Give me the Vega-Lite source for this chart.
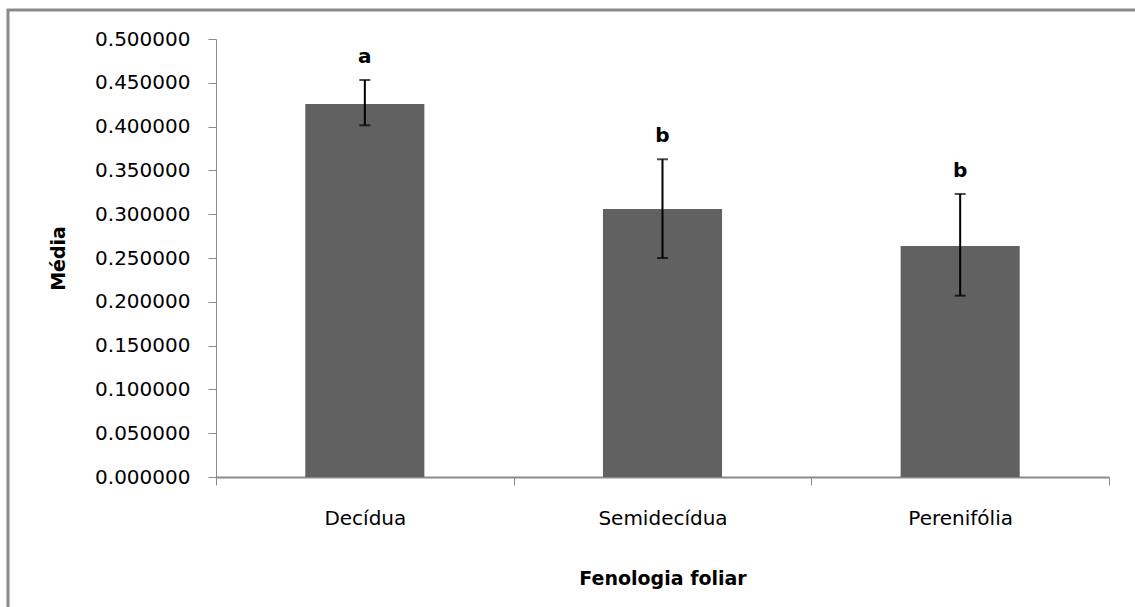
{
  "$schema": "https://vega.github.io/schema/vega-lite/v6.json",
  "width": 1127,
  "height": 597,
  "autosize": "none",
  "padding": {"left": 8, "top": 10, "right": 0, "bottom": 0},
  "background": "white",
  "view": {"stroke": "#8a8a8a", "strokeWidth": 3, "fill": "white", "strokeDash": [1127, 1724, 600, 10]},
  "config": {
    "view": {"stroke": "#8a8a8a", "strokeWidth": 3, "fill": "white", "strokeDash": [1127, 1724, 600, 10]},
    "axis": {"grid": false, "domainColor": "#8a8a8a", "tickColor": "#8a8a8a", "labelColor": "black", "titleColor": "black"}
  },
  "data": {
    "values": [
      {"fenologia": "Decídua", "media": 0.4258, "lo": 0.4015, "hi": 0.4532, "letra": "a"},
      {"fenologia": "Semidecídua", "media": 0.3059, "lo": 0.2500, "hi": 0.3627, "letra": "b"},
      {"fenologia": "Perenifólia", "media": 0.2637, "lo": 0.2070, "hi": 0.3231, "letra": "b"}
    ]
  },
  "encoding": {
    "x": {
      "field": "fenologia",
      "type": "nominal",
      "sort": null,
      "scale": {"type": "band", "range": [208, 1101], "paddingInner": 0, "paddingOuter": 0},
      "axis": {
        "title": "Fenologia foliar",
        "offset": -130,
        "labelAngle": 0,
        "labelFont": "DejaVu Sans",
        "labelFontSize": 20,
        "labelPadding": 23,
        "tickSize": 8,
        "tickBand": "extent",
        "domainWidth": 2,
        "titleFont": "DejaVu Sans",
        "titleFontWeight": "bold",
        "titleFontSize": 19,
        "titlePadding": 41
      }
    }
  },
  "layer": [
    {
      "mark": {"type": "bar", "color": "#616161", "width": {"band": 0.4}},
      "encoding": {
        "y": {
          "field": "media",
          "type": "quantitative",
          "scale": {"domain": [0, 0.5], "range": [467, 29], "nice": false, "zero": true},
          "axis": {
            "title": "Média",
            "offset": -208,
            "values": [0, 0.05, 0.1, 0.15, 0.2, 0.25, 0.3, 0.35, 0.4, 0.45, 0.5],
            "format": ".6f",
            "labelFont": "DejaVu Sans",
            "labelFontSize": 20,
            "labelPadding": 18,
            "tickSize": 8,
            "titleFont": "DejaVu Sans",
            "titleFontWeight": "bold",
            "titleFontSize": 19,
            "titlePadding": 26
          }
        }
      }
    },
    {
      "mark": {"type": "rule", "color": "black", "strokeWidth": 2},
      "encoding": {
        "y": {"field": "lo", "type": "quantitative"},
        "y2": {"field": "hi"}
      }
    },
    {
      "mark": {"type": "tick", "color": "black", "size": 11, "thickness": 2, "orient": "horizontal"},
      "encoding": {"y": {"field": "hi", "type": "quantitative"}}
    },
    {
      "mark": {"type": "tick", "color": "black", "size": 11, "thickness": 2, "orient": "horizontal"},
      "encoding": {"y": {"field": "lo", "type": "quantitative"}}
    },
    {
      "mark": {"type": "text", "font": "DejaVu Sans", "fontWeight": "bold", "fontSize": 20, "baseline": "alphabetic", "dy": -17, "color": "black"},
      "encoding": {
        "y": {"field": "hi", "type": "quantitative"},
        "text": {"field": "letra"}
      }
    }
  ]
}
